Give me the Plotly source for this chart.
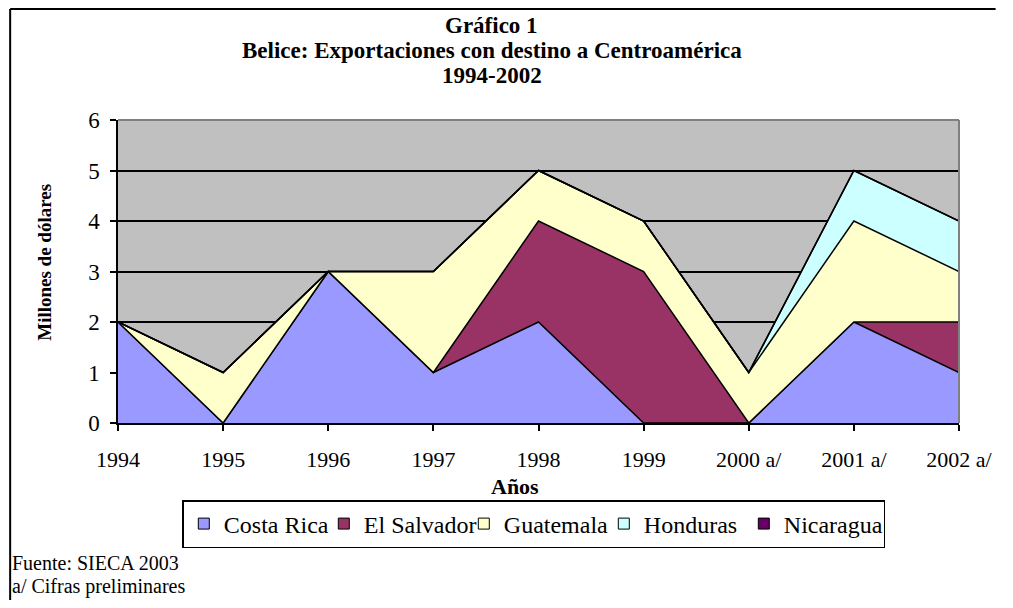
import plotly.graph_objects as go

categories = ["1994", "1995", "1996", "1997", "1998", "1999", "2000 a/", "2001 a/", "2002 a/"]
costa_rica = [2, 0, 3, 1, 2, 0, 0, 2, 1]
el_salvador = [0, 0, 0, 0, 2, 3, 0, 0, 1]
guatemala = [0, 1, 0, 2, 1, 1, 1, 2, 1]
honduras = [0, 0, 0, 0, 0, 0, 0, 1, 1]
nicaragua = [0, 0, 0, 0, 0, 0, 0, 0, 0]

series = [
    ("Costa Rica", costa_rica, "#9999FF"),
    ("El Salvador", el_salvador, "#993366"),
    ("Guatemala", guatemala, "#FFFFCC"),
    ("Honduras", honduras, "#CCFFFF"),
    ("Nicaragua", nicaragua, "#660066"),
]

FONT = "Liberation Serif"
fig = go.Figure()
xs = list(range(len(categories)))
for name, vals, col in series:
    fig.add_trace(go.Scatter(
        x=xs, y=vals, name=name, stackgroup="one", mode="lines",
        line=dict(color="black", width=1.5), fillcolor=col, showlegend=False,
    ))
for name, vals, col in series:
    fig.add_trace(go.Scatter(
        x=[None], y=[None], name=name, mode="markers",
        marker=dict(symbol="square", size=11, color=col, line=dict(color="black", width=1)),
    ))

# page has an 8px body margin on every side; keep the figure inside the window
OFF = 8
W, H = 1013 - 2 * OFF, 608 - 2 * OFF
L, R, T, B = 118, 968, 120, 423          # plot area in page pixels
pw, ph = R - L, B - T

def px(x):
    return (x - L) / pw

def py(y):
    return (B - y) / ph

fig.update_layout(
    width=W, height=H,
    margin=dict(l=L - OFF, r=W - (R - OFF), t=T - OFF, b=H - (B - OFF), pad=0),
    paper_bgcolor="white", plot_bgcolor="#C0C0C0",
    font=dict(family=FONT, color="black", size=20),
    xaxis=dict(
        range=[0, len(categories) - 1], tickmode="array", tickvals=xs, ticktext=categories,
        showgrid=False, zeroline=False, showline=True, linecolor="black", linewidth=1.5,
        ticks="outside", ticklen=6, tickcolor="black", tickwidth=1.5,
        tickfont=dict(family=FONT, size=22), ticklabelstandoff=10,
    ),
    yaxis=dict(
        range=[0, 6], dtick=1, showgrid=True, gridcolor="black", gridwidth=1.5,
        zeroline=False, showline=True, linecolor="black", linewidth=1.5,
        ticks="outside", ticklen=6, tickcolor="black", tickwidth=1.5,
        tickfont=dict(family=FONT, size=23), ticklabelstandoff=6,
    ),
    legend=dict(
        orientation="h", x=px(183), xanchor="left", y=py(500), yanchor="top",
        bordercolor="black", borderwidth=1.5, bgcolor="white", traceorder="normal",
        font=dict(family=FONT, size=24), itemwidth=30,
        entrywidth=95, entrywidthmode="pixels", tracegroupgap=0,
    ),
    showlegend=True,
)

title_lines = ["Gráfico 1", "Belice: Exportaciones con destino a Centroamérica", "1994-2002"]
for i, t in enumerate(title_lines):
    fig.add_annotation(text=f"<b>{t}</b>", xref="paper", yref="paper", x=px(496), y=py(25 + 25 * i),
                       xanchor="center", yanchor="middle", showarrow=False,
                       font=dict(family=FONT, size=23))

fig.add_annotation(text="<b>Millones de dólares</b>", textangle=-90, xref="paper", yref="paper",
                   x=px(43), y=py(262), xanchor="center", yanchor="middle", showarrow=False,
                   font=dict(family=FONT, size=19))
fig.add_annotation(text="<b>Años</b>", xref="paper", yref="paper", x=px(519), y=py(487),
                   xanchor="center", yanchor="middle", showarrow=False, font=dict(family=FONT, size=22))
fig.add_annotation(text="Fuente: SIECA 2003", xref="paper", yref="paper", x=px(9), y=py(563),
                   xanchor="left", yanchor="middle", showarrow=False, font=dict(family=FONT, size=20))
fig.add_annotation(text="a/ Cifras preliminares", xref="paper", yref="paper", x=px(9), y=py(586),
                   xanchor="left", yanchor="middle", showarrow=False, font=dict(family=FONT, size=20))

# outer chart frame (left and top edges; the others lie outside the window)
fig.add_shape(type="line", xref="paper", yref="paper", x0=px(9), x1=px(9), y0=py(9), y1=py(600),
              line=dict(color="black", width=2), layer="below")
fig.add_shape(type="line", xref="paper", yref="paper", x0=px(9), x1=px(1005), y0=py(9), y1=py(9),
              line=dict(color="black", width=2), layer="below")
# grey plot-area border on top and right
fig.add_shape(type="line", xref="paper", yref="paper", x0=0, x1=1, y0=1, y1=1,
              line=dict(color="#808080", width=2), layer="above")
fig.add_shape(type="line", xref="paper", yref="paper", x0=1, x1=1, y0=0, y1=1,
              line=dict(color="#808080", width=2), layer="above")

fig.write_html("out.html")
